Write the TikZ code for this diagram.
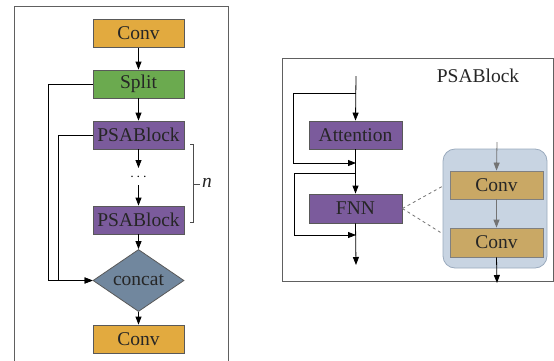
\documentclass[tikz,border=0pt]{standalone}
\usepackage{fontspec}
\setmainfont{Liberation Serif}
\usetikzlibrary{shapes.geometric,arrows.meta}
\definecolor{convc}{HTML}{E2AA3F}
\definecolor{splitc}{HTML}{6BAA4F}
\definecolor{psac}{HTML}{7B5B9C}
\definecolor{catc}{HTML}{71879E}
\definecolor{boxbg}{HTML}{C8D4E2}
\definecolor{boxln}{HTML}{9AAABD}
\definecolor{iconv}{HTML}{C9A865}
\definecolor{frm}{HTML}{606060}
\tikzset{
  blk/.style={draw=black!65, line width=0.8pt, minimum width=91pt, minimum height=28pt, inner sep=0pt, font=\fontsize{19.5}{20}\selectfont, text=black!85},
  arr/.style={line width=0.8pt, -{Triangle[length=8pt,width=6pt]}},
  ln/.style={line width=0.8pt},
  garr/.style={line width=0.8pt, draw=black!55, -{Triangle[length=8pt,width=6pt]}, color=black!55},
}
\begin{document}
\begin{tikzpicture}[x=1pt,y=-1pt]
\useasboundingbox (0,0) rectangle (554,360);
% left frame
\draw[frm, line width=0.8pt] (14,361) -- (14,6) -- (228,6) -- (228,361);
\node[blk, fill=convc] (conv1) at (138.5,33.5) {Conv};
\node[blk, fill=splitc] (split) at (138.5,84) {Split};
\node[blk, fill=psac] (psa1) at (138.5,135) {PSABlock};
\node[inner sep=1pt, font=\fontsize{15}{15}\selectfont, text=black] (dots) at (138.5,177) {$\cdots$};
\node[blk, fill=psac] (psa2) at (138.5,220) {PSABlock};
\node[diamond, draw=black!65, line width=0.8pt, fill=catc, minimum width=91pt, minimum height=45pt, inner sep=0pt, font=\fontsize{19.5}{20}\selectfont, text=black!85] (cat) at (138.5,280.5) {concat};
\node[blk, fill=convc] (conv2) at (138.5,339) {Conv};
\draw[arr] (conv1) -- (split);
\draw[arr] (split) -- (psa1);
\draw[arr] (psa1.south) -- (138.5,168);
\draw[arr] (138.5,185) -- (psa2.north);
\draw[arr] (psa2) -- (cat);
\draw[arr] (cat) -- (conv2);
\draw[arr] (split.west) -- (48,84) |- (cat.west);
\draw[arr] (psa1.west) -- (58,135) |- (cat.west);
% bracket
\draw[ln, black!70] (190,144) -- (193,144) -- (193,222) -- (190,222);
\draw[ln, black!70] (193,184) -- (200,184);
\node[font=\fontsize{19.5}{20}\selectfont\itshape, anchor=west, inner sep=0pt, text=black!85] (nlab) at (202,183) {n};
% right frame
\draw[frm, line width=0.8pt] (282,58) rectangle (553,281);
\node[font=\fontsize{19.5}{20}\selectfont, text=black!85] (title) at (478,76) {PSABlock};
\coordinate (top) at (356,76);
\coordinate (bot) at (356,265);
\node[blk, fill=psac, minimum width=93pt] (att) at (355.5,135) {Attention};
\node[blk, fill=psac, minimum width=93pt, minimum height=29pt] (fnn) at (355.5,208.5) {FNN};
\draw[arr] (top) -- (att.north);
\draw[arr] (att.south) -- (fnn.north);
\draw[arr] (fnn.south) -- (bot);
\draw[arr] (356,93) -- (293,93) -- (293,163) -- (356,163);
\draw[arr] (356,173) -- (294,173) -- (294,235) -- (356,235);
% blue box
\draw[fill=boxbg, draw=boxln, line width=0.8pt, rounded corners=12pt] (443,149) rectangle (547,268);
\node[blk, fill=iconv, draw=black!50, minimum width=93pt] (c1) at (496.5,185) {Conv};
\node[blk, fill=iconv, draw=black!50, minimum width=93pt, minimum height=29pt] (c2) at (496.5,242.5) {Conv};
\draw[garr] (497,142) -- (c1.north);
\draw[garr] (c1.south) -- (c2.north);
\draw[arr] (c2.south) -- (497,283);
\draw[dashed, black!55, line width=0.8pt] (fnn.east) -- (443,186);
\draw[dashed, black!55, line width=0.8pt] (fnn.east) -- (443,234);
\end{tikzpicture}
\end{document}
